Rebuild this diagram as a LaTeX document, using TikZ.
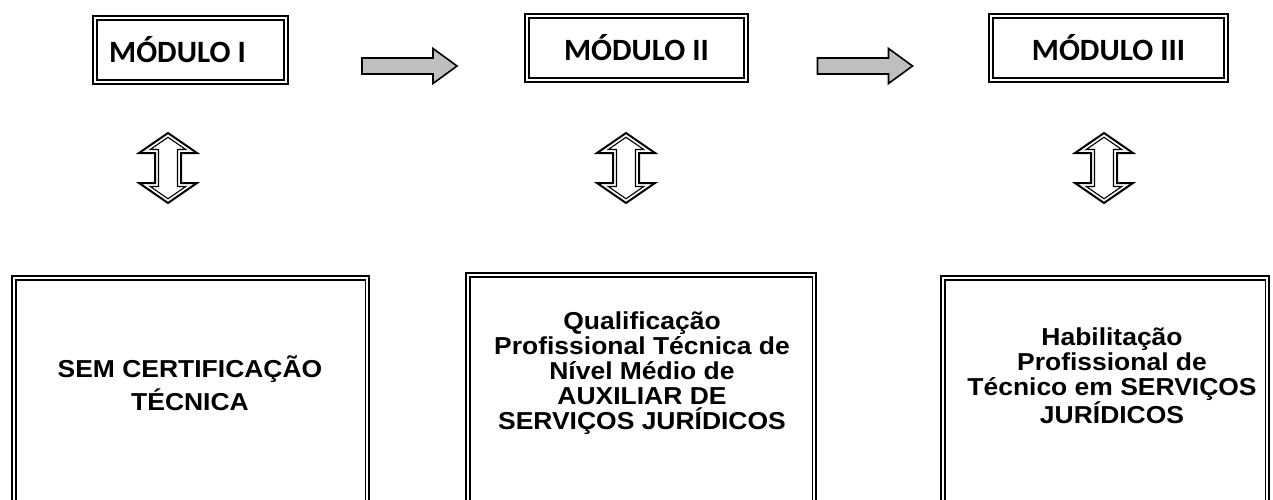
\documentclass[tikz,border=0pt]{standalone}
\usepackage{fontspec}
\usepackage{tikz}
\usetikzlibrary{positioning,calc}

\newfontfamily\modfont{Carlito}
\newfontfamily\boxfont[FakeStretch=1.08]{Liberation Sans}

\tikzset{
  modbox/.style={draw, line width=2.4pt, minimum width=223pt, minimum height=68pt,
    inner sep=0pt, font=\modfont\bfseries\fontsize{31}{36}\selectfont},
  inbox/.style={draw, line width=1.8pt},
  certbox/.style={draw, fill=white, line width=2.4pt, minimum width=357pt,
    minimum height=300pt, anchor=north west, inner sep=0pt},
  certtext/.style={align=center, inner sep=0pt,
    font=\boxfont\bfseries\fontsize{24.5}{25}\selectfont},
  grayarrow/.pic={
    \draw[line width=1.6pt, fill=black!25, line join=miter]
      (-47.5,-8) -- (23.5,-8) -- (23.5,-17.5) -- (47.5,0) -- (23.5,17.5)
      -- (23.5,8) -- (-47.5,8) -- cycle;
  },
  updown/.pic={
    \draw[line width=2pt, fill=white, line join=miter]
      (0,-35) -- (29,-15) -- (13,-15) -- (13,15) -- (29,15) -- (0,35)
      -- (-29,15) -- (-13,15) -- (-13,-15) -- (-29,-15) -- cycle;
    \draw[line width=1.1pt, line join=miter]
      (0,-30.75) -- (17.76,-18.5) -- (9.5,-18.5) -- (9.5,18.5) -- (17.76,18.5)
      -- (0,30.75) -- (-17.76,18.5) -- (-9.5,18.5) -- (-9.5,-18.5)
      -- (-17.76,-18.5) -- cycle;
  }
}

\begin{document}
\begin{tikzpicture}[x=1pt, y=-1pt]
  \path[use as bounding box, fill=white] (0,0) rectangle (1273,499);
  \clip (0,0) rectangle (1273,499);

  % Draw the modules
  \node[modbox, minimum width=195pt] (m1) at (190.5,50) {MÓDULO I\kern26pt};
  \node[modbox] (m2) at (636.5,48) {MÓDULO II};
  \node[modbox, minimum width=239pt] (m3) at (1108.5,48) {MÓDULO III};
  \foreach \n in {m1,m2,m3}
    \draw[inbox] ($(\n.north west)+(5,5)$) rectangle ($(\n.south east)+(-5,-5)$);

  % Arrows between the modules
  \pic at (409.5,66) {grayarrow};
  \pic at (865,66) {grayarrow};

  % Arrows down to the certificates
  \pic at (168,168) {updown};
  \pic at (626,168) {updown};
  \pic at (1104,168) {updown};

  % Draw the certificates
  \node[certbox] (c1) at (11,275) {};
  \node[certbox, minimum width=350pt] (c2) at (465,272) {};
  \node[certbox, minimum width=328pt] (c3) at (940,275) {};
  \foreach \n in {c1,c2,c3}
    \draw[inbox] ($(\n.north west)+(5,5)$) rectangle ($(\n.south east)+(-5,-5)$);

  \node[certtext, text depth=0pt] (t1) at (190,383)
    {SEM CERTIFICAÇÃO\\[5pt] TÉCNICA};
  \node[certtext] (t2) at (642,373)
    {Qualificação\\ Profissional Técnica de\\ Nível Médio de\\ AUXILIAR DE\\ SERVIÇOS JURÍDICOS};
  \node[certtext] (t3) at (1112,376)
    {Habilitação\\ Profissional de\\ Técnico em SERVIÇOS\\ JURÍDICOS};
\end{tikzpicture}
\end{document}
